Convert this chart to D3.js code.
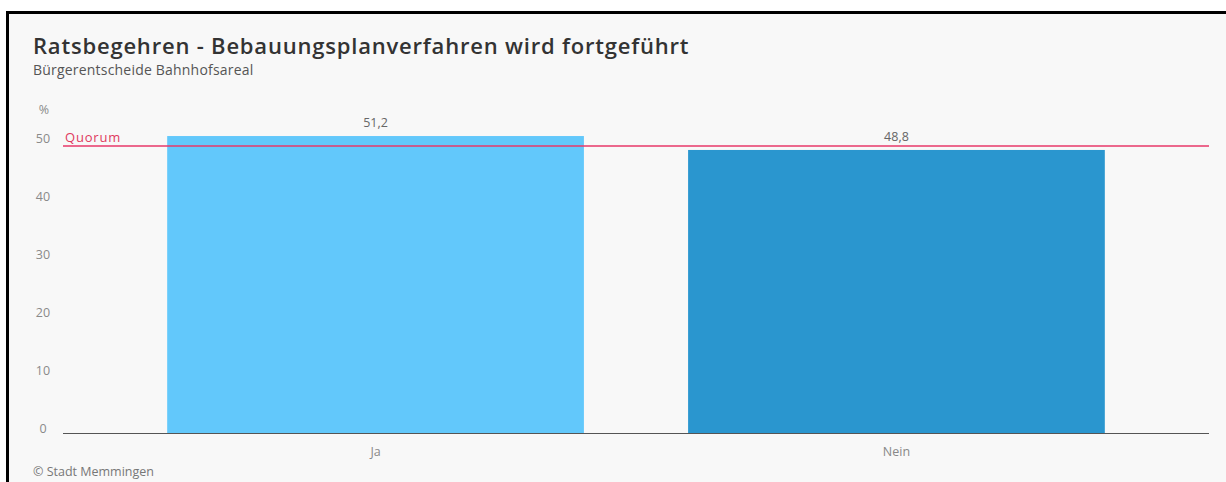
<!DOCTYPE html>
<html>
<head>
<meta charset="utf-8">
<script src="https://cdn.jsdelivr.net/npm/d3@7"></script>
<style>
  html, body { margin: 0; padding: 0; background: #f8f8f8; overflow: hidden; width: 1226px; height: 482px; }
  svg { display: block; }
  text { font-family: "Open Sans", "Noto Sans", sans-serif; }
</style>
</head>
<body>
<svg id="chart" width="1226" height="482" viewBox="0 0 1226 482"></svg>
<script>
// Ergebnis Ratsbegehren (Prozent)
const categories = ["Ja", "Nein"];
const values = [51.2, 48.8];
const valueLabels = ["51,2", "48,8"];
const barColors = ["#62c8fb", "#2a96cf"];
const yTicks = [0, 10, 20, 30, 40, 50];
const quorum = 50;

const svg = d3.select("#chart");
const W = 1226, H = 482;

// Hintergrund und Rahmen (Rahmen nur oben und links)
svg.append("rect").attr("x", 0).attr("y", 0).attr("width", W).attr("height", H).attr("fill", "#f8f8f8");
svg.append("rect").attr("x", 0).attr("y", 0).attr("width", W).attr("height", 11).attr("fill", "#ffffff");
svg.append("rect").attr("x", 0).attr("y", 0).attr("width", 6).attr("height", H).attr("fill", "#ffffff");
svg.append("rect").attr("x", 6).attr("y", 11).attr("width", W + 20).attr("height", 3).attr("fill", "#000");
svg.append("rect").attr("x", 6).attr("y", 11).attr("width", 3).attr("height", H + 20).attr("fill", "#000");

// Titel, Untertitel, Quelle
svg.append("text").attr("x", 33).attr("y", 54)
  .attr("font-size", 22).attr("font-weight", 600).attr("fill", "#333")
  .attr("letter-spacing", 0.8)
  .text("Ratsbegehren - Bebauungsplanverfahren wird fortgeführt");
svg.append("text").attr("x", 33).attr("y", 75)
  .attr("font-size", 14).attr("fill", "#555").attr("letter-spacing", 0.2)
  .text("Bürgerentscheide Bahnhofsareal");
svg.append("text").attr("x", 33).attr("y", 476)
  .attr("font-size", 12.5).attr("fill", "#777")
  .text("© Stadt Memmingen");

// Skalen
const x = d3.scaleBand().domain(categories).range([63, 1209]).paddingInner(0.2).paddingOuter(0.2);
const y = d3.scaleLinear().domain([0, 50]).range([433, 143]);

// y-Achse (nur Beschriftung)
const yAxis = d3.axisLeft(y).tickValues(yTicks).tickSize(0).tickPadding(0);
const gy = svg.append("g").attr("transform", "translate(43,0)").call(yAxis);
gy.select(".domain").remove();
gy.selectAll("text")
  .attr("text-anchor", "middle").attr("x", 0).attr("dy", "-0.05em")
  .attr("fill", "#8a8a8a").attr("font-size", 12.5)
  .style("font-family", "\"Open Sans\", sans-serif");
svg.append("text").attr("x", 44).attr("y", 114).attr("text-anchor", "middle")
  .attr("font-size", 12.5).attr("fill", "#8a8a8a").text("%");

// Balken
const data = categories.map((c, i) => ({ c, v: values[i], label: valueLabels[i], color: barColors[i] }));
svg.append("g").selectAll("rect").data(data).join("rect")
  .attr("x", d => x(d.c)).attr("width", x.bandwidth())
  .attr("y", d => y(d.v)).attr("height", d => y(0) - y(d.v))
  .attr("fill", d => d.color);

// Werte über den Balken
svg.append("g").selectAll("text").data(data).join("text")
  .attr("x", d => x(d.c) + x.bandwidth() / 2)
  .attr("y", d => y(d.v) - 9)
  .attr("text-anchor", "middle").attr("font-size", 12.5).attr("fill", "#666")
  .text(d => d.label);

// x-Achse
const xAxis = d3.axisBottom(x).tickSize(0).tickPadding(14);
const gx = svg.append("g").attr("transform", `translate(0,${y(0)})`).call(xAxis);
gx.select(".domain").attr("stroke", "#555").attr("d", `M63,0.5H1209`);
gx.selectAll("text").attr("fill", "#888").attr("font-size", 12.5)
  .style("font-family", "\"Open Sans\", sans-serif");

// Quorum-Linie
svg.append("line")
  .attr("x1", 63).attr("x2", 1209).attr("y1", y(quorum) + 3).attr("y2", y(quorum) + 3)
  .attr("stroke", "#e8386a").attr("stroke-width", 1.5);
svg.append("text").attr("x", 65).attr("y", y(quorum) - 1)
  .attr("font-size", 13).attr("fill", "#e03a5e").attr("letter-spacing", 0.8).text("Quorum");
</script>
</body>
</html>
